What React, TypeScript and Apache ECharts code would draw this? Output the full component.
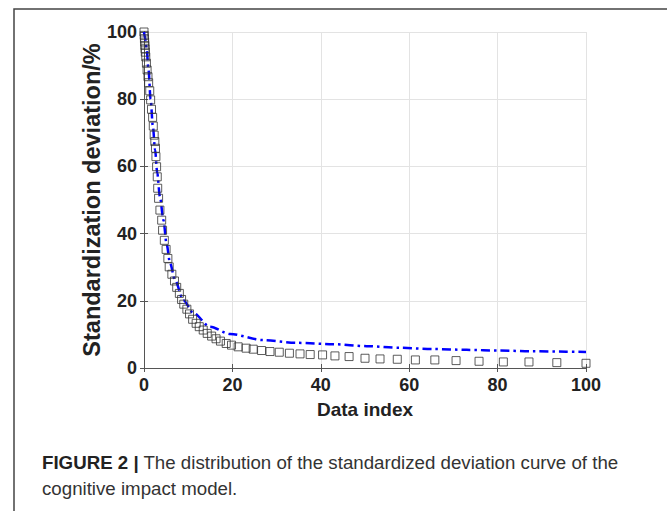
import React, { useEffect, useRef } from "react";
import * as echarts from "echarts";

const xTicks = [0, 20, 40, 60, 80, 100];
const yTicks = [0, 20, 40, 60, 80, 100];

// Open squares (measured deviation points)
const squareX = [0, 0.05, 0.1, 0.15, 0.2, 0.25, 0.3, 0.4, 0.55, 0.7, 0.9, 1.05, 1.3, 1.5, 1.7, 1.95, 2.1, 2.3, 2.45, 2.6, 2.7, 2.85, 3.0, 3.1, 3.3, 3.6, 4.0, 4.2, 4.6, 5.0, 5.4, 5.7, 6.3, 6.9, 7.4, 8.0, 8.5, 9.0, 9.7, 10.3, 11.0, 11.8, 12.5, 13.4, 14.3, 15.3, 16.3, 17.3, 18.6, 19.8, 21.3, 23.1, 24.7, 26.6, 28.5, 30.6, 32.9, 35.3, 37.6, 40.4, 43.2, 46.4, 50, 53.4, 57.3, 61.4, 65.8, 70.6, 75.8, 81.3, 87.1, 93.4, 100];
const squareY = [100, 99, 98, 97, 96, 95, 94, 92.6, 90.7, 88.7, 86.7, 84.9, 82.5, 79.8, 77, 74.6, 72, 69.3, 67.4, 65.4, 62.9, 59.9, 56.9, 53.5, 50.5, 47, 44, 41, 38, 35.3, 32.6, 30.1, 27.9, 25.9, 24, 22.2, 20.4, 19, 17.5, 16.1, 14.5, 13.3, 12.3, 11.3, 10.3, 9.5, 8.7, 8.0, 7.3, 6.8, 6.3, 5.9, 5.6, 5.2, 4.9, 4.7, 4.4, 4.2, 4.0, 3.9, 3.6, 3.4, 2.9, 2.7, 2.6, 2.4, 2.4, 2.2, 2.0, 1.8, 1.8, 1.6, 1.4];

// Blue dash-dot model curve
const lineX = [0, 0.3, 0.6, 1.0, 1.5, 2.0, 2.5, 3.0, 3.6, 4.4, 5.1, 5.9, 7.0, 8.9, 11.2, 14.9, 19.5, 27, 34.5, 42.8, 50.4, 57.9, 65.5, 73, 80.5, 88, 95.6, 100];
const lineY = [100, 98, 95, 89, 80, 72, 65, 58, 51, 44, 37, 31.2, 26.2, 20.2, 16.3, 12.3, 10.1, 8.3, 7.5, 7.1, 6.5, 6.0, 5.65, 5.4, 5.2, 4.96, 4.86, 4.76];

const xName = "Data index";
const yName = "Standardization deviation/%";
const captionBold = "FIGURE 2 |";
const captionLine1 = " The distribution of the standardized deviation curve of the";
const captionLine2 = "cognitive impact model.";

export default function App() {
  const ref = useRef<HTMLDivElement>(null);
  useEffect(() => {
    if (!ref.current) return;
    const chart = echarts.init(ref.current, null, { renderer: "svg" });
    const font = "'Liberation Sans', Arial, sans-serif";
    const axisColor = "#555";
    const tickLabel = { fontFamily: font, fontWeight: "bold" as const, fontSize: 18, color: "#222" };
    chart.setOption({
      animation: false,
      backgroundColor: "#fff",
      grid: { left: 144, right: 81, top: 32, bottom: 143, containLabel: false },
      xAxis: [
        {
          type: "value", min: 0, max: 100, interval: 20,
          name: xName, nameLocation: "middle", nameGap: 32, nameMoveOverlap: false,
          nameTextStyle: { fontFamily: font, fontWeight: "bold", fontSize: 19, color: "#222" },
          axisLine: { show: true, lineStyle: { color: axisColor, width: 1 } },
          axisTick: { show: true, inside: true, length: 4, lineStyle: { color: axisColor } },
          axisLabel: { ...tickLabel, margin: 8, formatter: (v: number) => (xTicks.includes(v) ? String(v) : "") },
          splitLine: { show: true, lineStyle: { color: "#e3e3e3", width: 1 } },
        },
        {
          type: "value", min: 0, max: 100, interval: 20, position: "top",
          axisLine: { show: true, lineStyle: { color: axisColor, width: 1 } },
          axisTick: { show: true, inside: true, length: 4, lineStyle: { color: axisColor } },
          axisLabel: { show: false }, splitLine: { show: false },
        },
      ],
      yAxis: [
        {
          type: "value", min: 0, max: 100, interval: 20,
          name: yName, nameLocation: "middle", nameGap: 40, nameRotate: 90, nameMoveOverlap: false,
          nameTextStyle: { fontFamily: font, fontWeight: "bold", fontSize: 23.5, color: "#222" },
          axisLine: { show: true, lineStyle: { color: axisColor, width: 1 } },
          axisTick: { show: true, inside: true, length: 4, lineStyle: { color: axisColor } },
          axisLabel: { ...tickLabel, margin: 7, formatter: (v: number) => (yTicks.includes(v) ? String(v) : "") },
          splitLine: { show: true, lineStyle: { color: "#e3e3e3", width: 1 } },
        },
        {
          type: "value", min: 0, max: 100, interval: 20, position: "right",
          axisLine: { show: true, lineStyle: { color: axisColor, width: 1 } },
          axisTick: { show: true, inside: true, length: 4, lineStyle: { color: axisColor } },
          axisLabel: { show: false }, splitLine: { show: false },
        },
      ],
      series: [
        {
          type: "line",
          data: lineX.map((x, i) => [x, lineY[i]]),
          showSymbol: false,
          smooth: 0.3,
          smoothMonotone: "x",
          lineStyle: { color: "#0000ff", width: 2.5, type: [9, 4, 2.5, 4] },
          z: 3,
        },
        {
          type: "scatter",
          data: squareX.map((x, i) => [x, squareY[i]]),
          symbol: "rect",
          symbolSize: 8,
          itemStyle: { color: "rgba(255,255,255,0)", borderColor: "#333", borderWidth: 1 },
          z: 4,
        },
      ],
      graphic: [
        {
          type: "polyline",
          shape: { points: [[14, 511], [14, 9], [667, 9]] },
          style: { stroke: "#444", lineWidth: 1.5, fill: "none" },
        },
        {
          type: "text",
          left: 42,
          top: 449,
          style: {
            text: "{b|" + captionBold + "}" + captionLine1 + "\n" + captionLine2,
            fontFamily: font,
            fontSize: 18.7,
            lineHeight: 26,
            fill: "#333",
            rich: { b: { fontFamily: font, fontWeight: "bold", fontSize: 18.7, fill: "#222", lineHeight: 26 } },
          },
        },
      ],
    });
    return () => chart.dispose();
  }, []);
  return <div ref={ref} style={{ position: "fixed", left: 0, top: 0, width: 667, height: 511 }} />;
}
